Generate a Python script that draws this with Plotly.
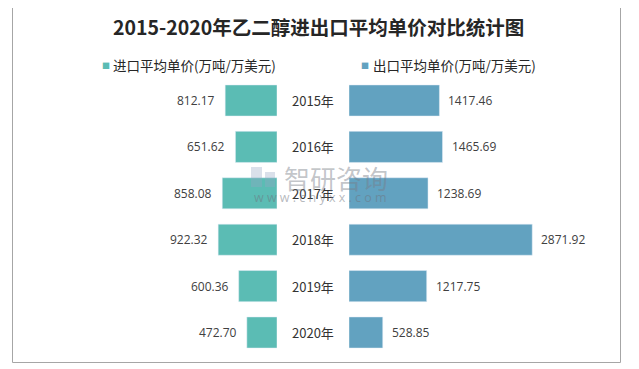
import plotly.graph_objects as go

years = ["2015年", "2016年", "2017年", "2018年", "2019年", "2020年"]
import_price = [812.17, 651.62, 858.08, 922.32, 600.36, 472.70]
export_price = [1417.46, 1465.69, 1238.69, 2871.92, 1217.75, 528.85]
import_name = "进口平均单价(万吨/万美元)"
export_name = "出口平均单价(万吨/万美元)"
title_text = "2015-2020年乙二醇进出口平均单价对比统计图"

# page has an 8px body margin: lay out in page pixels, convert to figure fractions
OFF = 8
W, H = 631, 361
c_imp = "#5BBCB4"
c_exp = "#62A2C0"
FONT = "Noto Sans CJK SC"
NUMF = "Open Sans"
scale = 0.0638  # px per unit


def px(x):
    return (x - OFF) / W


def py(y):
    return 1 - (y - OFF) / H


fig = go.Figure()
fig.add_trace(go.Bar(y=years, x=import_price, orientation="h", marker_color=c_imp,
                     name=import_name, xaxis="x", yaxis="y", showlegend=False))
fig.add_trace(go.Bar(y=years, x=export_price, orientation="h", marker_color=c_exp,
                     name=export_name, xaxis="x2", yaxis="y", showlegend=False))

ann = []
for yr, v in zip(years, import_price):
    ann.append(dict(x=v, y=yr, xref="x", yref="y", text=f"{v:.2f}", showarrow=False,
                    xanchor="right", yanchor="middle", xshift=-8,
                    font=dict(size=12, color="#404040", family=NUMF)))
for yr, v in zip(years, export_price):
    ann.append(dict(x=v, y=yr, xref="x2", yref="y", text=f"{v:.2f}", showarrow=False,
                    xanchor="left", yanchor="middle", xshift=7,
                    font=dict(size=12, color="#404040", family=NUMF)))
for yr in years:
    ann.append(dict(x=px(313), y=yr, xref="paper", yref="y", text=yr, showarrow=False,
                    xanchor="center", yanchor="middle", font=dict(size=13, color="#333333", family=FONT)))

# legend (manual)
LY = py(65)
ann += [
    dict(x=px(105.5), y=LY, xref="paper", yref="paper", text="■", showarrow=False,
         xanchor="center", yanchor="middle", font=dict(size=8, color=c_imp, family=FONT)),
    dict(x=px(111), y=LY, xref="paper", yref="paper", text=import_name, showarrow=False,
         xanchor="left", yanchor="middle", font=dict(size=13.5, color="#262626", family=FONT)),
    dict(x=px(364.5), y=LY, xref="paper", yref="paper", text="■", showarrow=False,
         xanchor="center", yanchor="middle", font=dict(size=8, color=c_exp, family=FONT)),
    dict(x=px(371), y=LY, xref="paper", yref="paper", text=export_name, showarrow=False,
         xanchor="left", yanchor="middle", font=dict(size=13.5, color="#262626", family=FONT)),
]
# title
ann.append(dict(x=px(318), y=py(27), xref="paper", yref="paper", text="<b>" + title_text + "</b>",
                showarrow=False, xanchor="center", yanchor="middle",
                font=dict(size=19.5, color="#262626", family=FONT)))
# watermark
ann += [
    dict(x=px(336), y=py(177), xref="paper", yref="paper", text="智研咨询", showarrow=False,
         xanchor="center", yanchor="middle", font=dict(size=26, color="rgba(120,125,135,0.45)", family=FONT)),
    dict(x=px(320), y=py(197), xref="paper", yref="paper", text="w w w . c h y x x . c o m",
         showarrow=False, xanchor="center", yanchor="middle",
         font=dict(size=12.5, color="rgba(110,115,125,0.5)", family=NUMF)),
]

shapes = [
    dict(type="rect", xref="paper", yref="paper", x0=px(12.5), x1=px(620.5), y0=py(362.5), y1=py(4.5),
         line=dict(color="#A6A6A6", width=1)),
    # watermark logo (simple)
    dict(type="rect", xref="paper", yref="paper", x0=px(251), x1=px(262), y0=py(187), y1=py(167),
         line=dict(width=0), fillcolor="rgba(150,165,195,0.35)"),
    dict(type="rect", xref="paper", yref="paper", x0=px(265), x1=px(275), y0=py(187), y1=py(172),
         line=dict(width=0), fillcolor="rgba(150,165,195,0.35)"),
]

fig.update_layout(
    width=W, height=H,
    margin=dict(l=0, r=0, t=0, b=0),
    paper_bgcolor="white", plot_bgcolor="white",
    bargap=0.33,
    showlegend=False,
    xaxis=dict(domain=[px(12), px(277)], range=[265 / scale, 0], visible=False, fixedrange=True),
    xaxis2=dict(domain=[px(349), px(620)], range=[0, 271 / scale], visible=False, anchor="y"),
    yaxis=dict(domain=[py(355.7), py(77.3)], autorange="reversed", visible=False,
               categoryorder="array", categoryarray=years),
    annotations=ann,
    shapes=shapes,
    font=dict(family=FONT),
)

fig.write_html("out.html")
